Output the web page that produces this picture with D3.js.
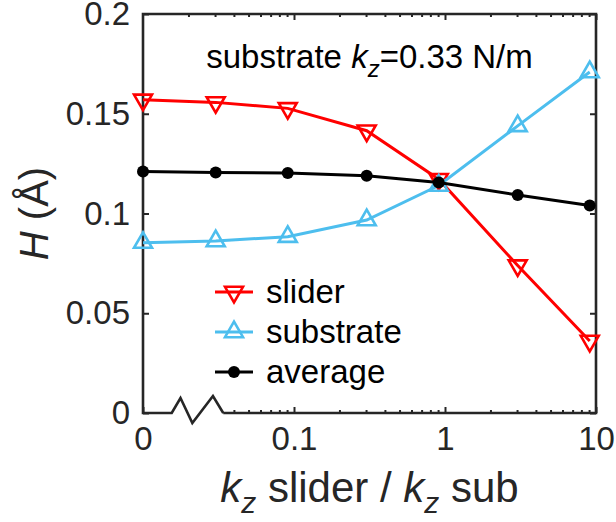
<!DOCTYPE html>
<html>
<head>
<meta charset="utf-8">
<script src="https://cdn.jsdelivr.net/npm/d3@7"></script>
<style>
  body { margin: 0; background: #fff; }
  svg { display: block; }
  text { font-family: "Liberation Sans", Arial, Helvetica, sans-serif; }
</style>
</head>
<body>
<div id="chart"></div>
<script>
// data (slider stiffness / substrate stiffness, 0 = no slider spring)
var kRatio = [0, 0.0303, 0.0909, 0.303, 0.909, 3.03, 9.09];
var slider = [0.1570, 0.1557, 0.1527, 0.1415, 0.1172, 0.0739, 0.0361];
var substrate = [0.0854, 0.0862, 0.0884, 0.0967, 0.1140, 0.1439, 0.1709];
var average = [0.1210, 0.1206, 0.1203, 0.1189, 0.1155, 0.1093, 0.1040];

var seriesNames = ["slider", "substrate", "average"];
var yTicks = [0, 0.05, 0.1, 0.15, 0.2];
var yTickLabels = ["0", "0.05", "0.1", "0.15", "0.2"];
var xTicks = [0.01, 0.1, 1, 10];
var xTickLabels = ["0", "0.1", "1", "10"];

var width = 616,
    height = 522,
    margin = {top: 14, right: 20, bottom: 109, left: 143};

var zeroAt = 0.01;          // where x = 0 is drawn on the log axis
var breakFrom = 0.0155, breakTo = 0.034;

var svg = d3.select("#chart")
    .append("svg")
    .attr("width", width)
    .attr("height", height);

var x = d3.scaleLog()
    .domain([0.01, 10])
    .range([margin.left, width - margin.right]);

var y = d3.scaleLinear()
    .domain([0, 0.2])
    .range([height - margin.bottom, margin.top]);

function px(v) { return x(v === 0 ? zeroAt : v); }

var axisColor = "#262626";
var x0 = x.range()[0], x1 = x.range()[1];
var y0 = y.range()[0], y1 = y.range()[1];

// minor ticks on log axis
var minorTicks = [];
[0.01, 0.1, 1].forEach(function (dec) {
    for (var m = 2; m <= 9; m++) minorTicks.push(dec * m);
});

// bottom ticks (skip what falls inside the break)
var g = svg.append("g");
g.append("g")
    .attr("transform", "translate(0," + y0 + ")")
    .call(d3.axisBottom(x).tickValues(xTicks).tickSize(-6).tickPadding(14)
        .tickFormat(function (d, i) { return xTickLabels[i]; }))
    .call(function (a) { a.select(".domain").remove(); });
g.append("g")
    .attr("transform", "translate(0," + y0 + ")")
    .call(d3.axisBottom(x).tickValues(minorTicks.filter(function (d) { return d > breakTo; }))
        .tickSize(-3).tickFormat(""))
    .call(function (a) { a.select(".domain").remove(); });
// top ticks
g.append("g")
    .attr("transform", "translate(0," + y1 + ")")
    .call(d3.axisTop(x).tickValues(xTicks.slice(1)).tickSize(-6).tickFormat(""))
    .call(function (a) { a.select(".domain").remove(); });
g.append("g")
    .attr("transform", "translate(0," + y1 + ")")
    .call(d3.axisTop(x).tickValues(minorTicks).tickSize(-3).tickFormat(""))
    .call(function (a) { a.select(".domain").remove(); });
// left / right ticks
g.append("g")
    .attr("transform", "translate(" + x0 + ",0)")
    .call(d3.axisLeft(y).tickValues(yTicks).tickSize(-6).tickPadding(13)
        .tickFormat(function (d, i) { return yTickLabels[i]; }))
    .call(function (a) { a.select(".domain").remove(); });
g.append("g")
    .attr("transform", "translate(" + x1 + ",0)")
    .call(d3.axisRight(y).tickValues(yTicks).tickSize(-6).tickFormat(""))
    .call(function (a) { a.select(".domain").remove(); });

g.selectAll(".tick line").style("stroke", axisColor).style("stroke-width", 2);
g.selectAll(".tick text")
    .style("font-size", "33px")
    .style("fill", axisColor)
    .style("font-family", "'Liberation Sans', Arial, sans-serif");

// frame with the axis break
var bx0 = x(breakFrom), bx1 = x(breakTo), bw = bx1 - bx0;
var frame = d3.path();
frame.moveTo(bx1, y0);
frame.lineTo(x1, y0);
frame.lineTo(x1, y1);
frame.lineTo(x0, y1);
frame.lineTo(x0, y0);
frame.lineTo(bx0, y0);
frame.lineTo(bx0 + bw * 0.17, y0 - 15);
frame.lineTo(bx0 + bw * 0.40, y0 + 10);
frame.lineTo(bx0 + bw * 0.80, y0 - 17);
frame.lineTo(bx1, y0);
svg.append("path")
    .attr("d", frame.toString())
    .style("fill", "none")
    .style("stroke", axisColor)
    .style("stroke-width", 2.6)
    .style("stroke-linejoin", "miter");

// series
var series = [
    {name: "slider", values: slider, color: "#ff0000", marker: "down"},
    {name: "substrate", values: substrate, color: "#4dbeee", marker: "up"},
    {name: "average", values: average, color: "#000000", marker: "dot"}
];

var line = d3.line()
    .x(function (d, i) { return px(kRatio[i]); })
    .y(function (d) { return y(d); });

var tri = 18, triH = tri * Math.sqrt(3) / 2;
function triPath(dir) {
    // centroid at origin
    var a = triH / 3, b = 2 * triH / 3;
    if (dir === "down")
        return "M" + (-tri / 2) + "," + (-a) + "L" + (tri / 2) + "," + (-a) + "L0," + b + "Z";
    return "M" + (-tri / 2) + "," + a + "L" + (tri / 2) + "," + a + "L0," + (-b) + "Z";
}

function drawMarker(sel, s) {
    if (s.marker === "dot") {
        sel.append("circle").attr("r", 6).style("fill", s.color);
    } else {
        sel.append("path")
            .attr("d", triPath(s.marker))
            .style("fill", "none")
            .style("stroke", s.color)
            .style("stroke-width", 2.6)
            .style("stroke-linejoin", "miter");
    }
}

series.forEach(function (s) {
    var sg = svg.append("g");
    sg.append("path")
        .datum(s.values)
        .attr("d", line)
        .style("fill", "none")
        .style("stroke", s.color)
        .style("stroke-width", 3);
    sg.selectAll("g.m")
        .data(s.values)
        .enter().append("g")
        .attr("class", "m")
        .attr("transform", function (d, i) { return "translate(" + px(kRatio[i]) + "," + y(d) + ")"; })
        .each(function () { drawMarker(d3.select(this), s); });
});

// legend
var legend = svg.append("g").attr("transform", "translate(215,292)");
series.forEach(function (s, i) {
    var row = legend.append("g").attr("transform", "translate(0," + (i * 40) + ")");
    row.append("line")
        .attr("x1", 0).attr("x2", 38)
        .style("stroke", s.color)
        .style("stroke-width", 3);
    drawMarker(row.append("g").attr("transform", "translate(19,0)"), s);
    row.append("text")
        .attr("x", 51)
        .attr("y", 11)
        .style("font-size", "33px")
        .text(seriesNames[i]);
});

// annotation
var note = svg.append("text")
    .attr("x", (x0 + x1) / 2)
    .attr("y", 68)
    .attr("text-anchor", "middle")
    .style("font-size", "33px");
note.append("tspan").text("substrate ");
note.append("tspan").style("font-style", "italic").text("k");
note.append("tspan").attr("dy", 9).style("font-size", "24px").style("font-style", "italic").text("z");
note.append("tspan").attr("dy", -9).text("=0.33 N/m");

// axis titles
var xt = svg.append("text")
    .attr("x", (x0 + x1) / 2)
    .attr("y", 502)
    .attr("text-anchor", "middle")
    .style("font-size", "42px")
    .style("fill", axisColor);
xt.append("tspan").style("font-style", "italic").text("k");
xt.append("tspan").attr("dy", 11).style("font-size", "30px").style("font-style", "italic").text("z");
xt.append("tspan").attr("dy", -11).text(" slider / ");
xt.append("tspan").style("font-style", "italic").text("k");
xt.append("tspan").attr("dy", 11).style("font-size", "30px").style("font-style", "italic").text("z");
xt.append("tspan").attr("dy", -11).text(" sub");

var yt = svg.append("text")
    .attr("transform", "translate(48," + ((y0 + y1) / 2) + ") rotate(-90)")
    .attr("text-anchor", "middle")
    .style("font-size", "40px")
    .style("fill", axisColor);
yt.append("tspan").style("font-style", "italic").text("H");
yt.append("tspan").text(" (\u00c5)");
</script>
</body>
</html>
